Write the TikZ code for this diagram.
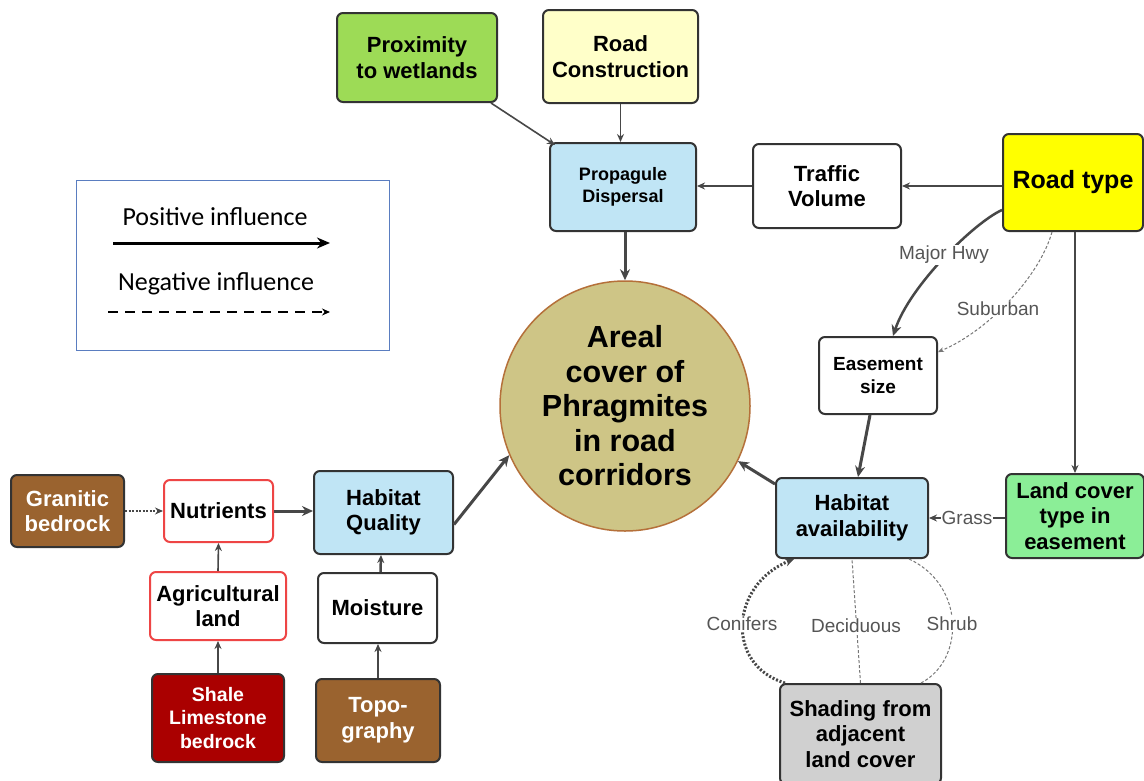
\documentclass[tikz,border=0pt]{standalone}
\usepackage{fontspec}
\setmainfont{Liberation Sans}
\newfontfamily\legendfont{Carlito}
\usetikzlibrary{arrows.meta,calc}
\definecolor{boxline}{HTML}{333333}
\definecolor{arrowc}{HTML}{474747}
\definecolor{labelc}{HTML}{555555}
\definecolor{cblue}{HTML}{C0E5F5}
\definecolor{cyellow}{HTML}{FFFF00}
\definecolor{cprox}{HTML}{9DDB56}
\definecolor{crc}{HTML}{FFFFC9}
\definecolor{clc}{HTML}{8BEE97}
\definecolor{cbrown}{HTML}{9A632F}
\definecolor{cdred}{HTML}{AA0000}
\definecolor{cgrey}{HTML}{D0D0D0}
\definecolor{circf}{HTML}{CEC586}
\definecolor{circb}{HTML}{B5703A}
\definecolor{cred}{HTML}{EE4545}
\definecolor{legb}{HTML}{5A7DC0}
\tikzset{
  box/.style={draw=boxline, line width=2pt, rounded corners=6pt, align=center,
    font=\bfseries\fontsize{22}{25.5}\selectfont, inner sep=2pt},
  arr/.style={draw=arrowc, line width=1.6pt, -{Stealth[length=8pt,width=7pt]}},
  thickarr/.style={draw=arrowc, line width=3pt, -{Stealth[length=11pt,width=10pt]}},
  lbl/.style={font=\fontsize{19}{22}\selectfont, text=labelc, fill=white, inner sep=1pt},
  thindash/.style={draw=labelc!80, line width=1pt, dash pattern=on 3pt off 2pt},
  legtext/.style={font=\legendfont\fontsize{26}{30}\selectfont},
}
\begin{document}
\begin{tikzpicture}[x=1pt,y=-1pt]
\clip (0,0) rectangle (1144,780);
\fill[white] (0,0) rectangle (1144,780);

% legend
\draw[legb, line width=1pt] (76,180) rectangle (389,350);
\node[legtext] (lpos) at (215,217) {Positive influence};
\node[legtext] (lneg) at (216,284) {Negative influence};
\coordinate (lp1) at (113,243); \coordinate (lp2) at (330,243);
\coordinate (ln1) at (108,312); \coordinate (ln2) at (330,312);
\draw[black, line width=3pt, -{Stealth[length=13pt,width=11pt]}] (lp1) -- (lp2);
\draw[black, line width=2pt, dash pattern=on 10pt off 7pt, -{Stealth[length=8pt,width=7pt]}] (ln1) -- (ln2);

% nodes
\node[box, fill=cprox, minimum width=160pt, minimum height=89pt] (prox) at (417,57.5) {Proximity\\to wetlands};
\node[box, fill=crc, minimum width=155pt, minimum height=93pt] (rc) at (620.5,56.5) {Road\\Construction};
\node[box, fill=cblue, minimum width=146pt, minimum height=88pt, font=\bfseries\fontsize{18}{22}\selectfont] (prop) at (623,187) {Propagule\\Dispersal};
\node[box, fill=white, minimum width=148pt, minimum height=84pt] (tv) at (827,186) {Traffic\\Volume};
\node[box, fill=cyellow, minimum width=140pt, minimum height=97pt, font=\bfseries\fontsize{25}{29}\selectfont] (rt) at (1073,182.5) {Road type};
\node[circle, draw=circb, line width=1.5pt, fill=circf, minimum size=250pt, inner sep=0pt, align=center,
  font=\bfseries\fontsize{30.5}{34.5}\selectfont] (circ) at (625,406) {Areal\\cover of\\Phragmites\\in road\\corridors};
\node[box, fill=white, minimum width=118pt, minimum height=77pt, font=\bfseries\fontsize{19}{23}\selectfont] (es) at (878,375.5) {Easement\\size};
\node[box, fill=clc, minimum width=138pt, minimum height=84pt] (lc) at (1075,516) {Land cover\\type in\\easement};
\node[box, fill=cblue, minimum width=152pt, minimum height=80pt] (ha) at (852,518) {Habitat\\availability};
\node[box, fill=cgrey, minimum width=161pt, minimum height=100pt] (sh) at (860.5,734) {Shading from\\adjacent\\land cover};
\node[box, fill=cbrown, text=white, minimum width=113pt, minimum height=72pt] (gb) at (67.5,511) {Granitic\\bedrock};
\node[box, draw=cred, fill=white, minimum width=109pt, minimum height=62pt] (nut) at (218.5,511) {Nutrients};
\node[box, fill=cblue, minimum width=139pt, minimum height=83pt] (hq) at (383.5,512.5) {Habitat\\Quality};
\node[box, draw=cred, fill=white, minimum width=136pt, minimum height=68pt] (ag) at (218,606) {Agricultural\\land};
\node[box, fill=white, minimum width=119pt, minimum height=70pt] (mo) at (377.5,608) {Moisture};
\node[box, fill=cdred, text=white, minimum width=132pt, minimum height=88pt, font=\bfseries\fontsize{19.5}{23.5}\selectfont] (sl) at (218,718) {Shale\\Limestone\\bedrock};
\node[box, fill=cbrown, text=white, minimum width=124pt, minimum height=83pt] (topo) at (378,720.5) {Topo-\\graphy};

% connectors top
\draw[arr] ([xshift=-7pt]prox.south east) -- ([xshift=6pt,yshift=-3pt]prop.north west);
\draw[arr] (rc.south) -- (rc.south |- prop.north);
\draw[arr] (tv.west) -- (tv.west -| prop.east);
\draw[arr] (rt.west |- tv.east) -- (tv.east);
\draw[thickarr] ([xshift=2pt]prop.south) -- (circ.north);

% road type branches
\draw[thickarr, line width=2.5pt] ([yshift=-27.5pt]rt.west) .. controls (975,222) and (910,285) .. ([xshift=15pt]es.north);
\node[lbl] (lmaj) at (944,255) {Major Hwy};
\draw[thindash, -{Stealth[length=6pt,width=5pt]}] ([xshift=-21pt]rt.south) .. controls (1040,275) and (990,330) .. ([yshift=23.5pt]es.east);
\node[lbl] (lsub) at (998,309) {Suburban};
\draw[arr] (lc.north |- rt.south) -- (lc.north);

% habitat availability
\draw[thickarr] ([xshift=-8pt]es.south) -- ([xshift=6pt]ha.north);
\draw[thickarr] ([yshift=-7pt]ha.north west) -- (circ.-26);
\draw[arr, line width=2.5pt] (lc.west |- ha.east) -- (ha.east) node[lbl, midway] (lgr) {Grass};

% shading
\draw[draw=arrowc, line width=3pt, dash pattern=on 2pt off 1.8pt, -{Stealth[length=9pt,width=8pt]}]
  ([xshift=6pt]sh.north west) .. controls (725,665) and (730,585) .. ([xshift=19pt]ha.south west);
\draw[thindash] (sh.north) -- (ha.south);
\draw[thindash] ([xshift=-21pt]sh.north east) .. controls (965,660) and (965,585) .. ([xshift=-20pt]ha.south east);
\node[lbl] (lcon) at (742,624) {Conifers};
\node[lbl] (ldec) at (856,626) {Deciduous};
\node[lbl] (lshr) at (952,624) {Shrub};

% lower left
\draw[draw=arrowc, line width=2.2pt, dash pattern=on 2pt off 1.5pt, -{Stealth[length=8pt,width=7pt]}] (gb.east) -- (gb.east -| nut.west);
\draw[thickarr] (nut.east) -- (nut.east -| hq.west);
\draw[arr] (ag.north) -- (nut.south);
\draw[arr] (sl.north) -- (ag.south);
\draw[arr, line width=2.5pt] ([xshift=3pt]mo.north) -- ([xshift=-2.5pt]hq.south);
\draw[arr] (topo.north) -- (topo.north |- mo.south);
\draw[thickarr] ([yshift=-12pt]hq.east) -- (circ.203);
\end{tikzpicture}
\end{document}
